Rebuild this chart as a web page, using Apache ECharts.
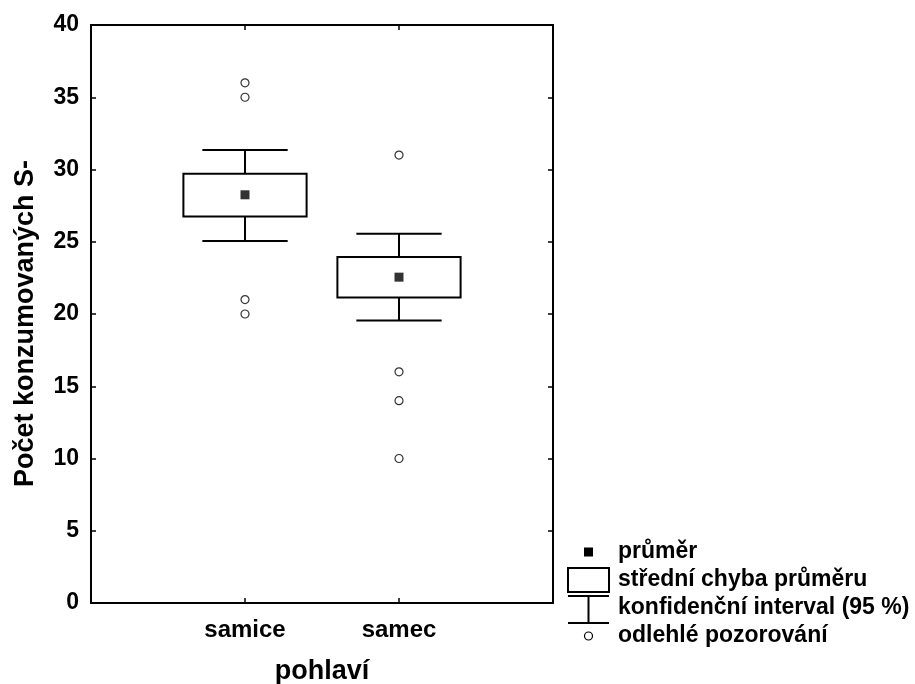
<!DOCTYPE html>
<html>
<head>
<meta charset="utf-8">
<script src="https://cdn.jsdelivr.net/npm/echarts@6/dist/echarts.min.js"></script>
<style>html,body{margin:0;padding:0;background:#fff}#chart{width:915px;height:684px}</style>
</head>
<body>
<div id="chart"></div>
<script>
// ---- data ----
const categories = ['samice', 'samec'];
const means = [28.25, 22.55];
const seLow = [26.75, 21.15];
const seHigh = [29.7, 23.95];
const ciLow = [25.05, 19.55];
const ciHigh = [31.35, 25.55];
const outliersSamice = [36, 35, 21, 20];
const outliersSamec = [31, 16, 14, 10];
const yTicks = [0, 5, 10, 15, 20, 25, 30, 35, 40];
const legendLabels = ['průměr', 'střední chyba průměru', 'konfidenční interval (95 %)', 'odlehlé pozorování'];
const yTitle = 'Počet konzumovaných S-';
const xTitle = 'pohlaví';

const FONT = 'Liberation Sans, Arial, sans-serif';
const chart = echarts.init(document.getElementById('chart'));

const boxData = categories.map((c, i) => [i + 1, ciLow[i], seLow[i], seHigh[i], ciHigh[i]]);
const meanData = categories.map((c, i) => [i + 1, means[i]]);
const outlierData = [outliersSamice, outliersSamec].flatMap((arr, i) => arr.map(v => [i + 1, v]));

function renderBox(params, api) {
  const x = api.value(0);
  const lo = api.value(1), q1 = api.value(2), q3 = api.value(3), hi = api.value(4);
  const boxHalf = 0.40, capHalf = 0.277;
  const pLo = api.coord([x, lo]), pHi = api.coord([x, hi]);
  const pQ1 = api.coord([x, q1]), pQ3 = api.coord([x, q3]);
  const bl = api.coord([x - boxHalf, q1])[0], br = api.coord([x + boxHalf, q1])[0];
  const cl = api.coord([x - capHalf, lo])[0], cr = api.coord([x + capHalf, lo])[0];
  const ls = { stroke: '#000', lineWidth: 2 };
  return {
    type: 'group',
    children: [
      { type: 'line', shape: { x1: pHi[0], y1: pHi[1], x2: pQ3[0], y2: pQ3[1] }, style: ls },
      { type: 'line', shape: { x1: pLo[0], y1: pLo[1], x2: pQ1[0], y2: pQ1[1] }, style: ls },
      { type: 'line', shape: { x1: cl, y1: pHi[1], x2: cr, y2: pHi[1] }, style: ls },
      { type: 'line', shape: { x1: cl, y1: pLo[1], x2: cr, y2: pLo[1] }, style: ls },
      { type: 'rect', shape: { x: bl, y: pQ3[1], width: br - bl, height: pQ1[1] - pQ3[1] },
        style: { fill: '#fff', stroke: '#000', lineWidth: 2 } }
    ]
  };
}

const txt = { fontFamily: FONT, fontWeight: 'bold', fill: '#000', fontSize: 23 };
const legendX = 568, legendTextX = 618;
const legendY = [552, 580, 608, 636];

const axisLineStyle = { onZero: false, lineStyle: { color: '#000', width: 2 } };
const tickStyle = { show: true, inside: true, length: 5, lineStyle: { color: '#000', width: 1.5 } };

const option = {
  animation: false,
  backgroundColor: '#fff',
  grid: { left: 91, right: 362, top: 25, bottom: 81, containLabel: false, outerBoundsMode: 'none' },
  xAxis: [
    {
      type: 'value', min: 0, max: 3, interval: 1, position: 'bottom',
      name: xTitle, nameLocation: 'middle', nameGap: 55,
      nameTextStyle: { fontFamily: FONT, fontWeight: 'bold', fontSize: 27, color: '#000' },
      axisLine: axisLineStyle,
      axisTick: tickStyle,
      axisLabel: {
        margin: 15, fontFamily: FONT, fontWeight: 'bold', fontSize: 24, color: '#000',
        formatter: v => (v >= 1 && v <= categories.length && Number.isInteger(v)) ? categories[v - 1] : ''
      },
      splitLine: { show: false }
    },
    {
      type: 'value', min: 0, max: 3, interval: 1, position: 'top',
      axisLine: axisLineStyle,
      axisTick: tickStyle,
      axisLabel: { show: false },
      splitLine: { show: false }
    }
  ],
  yAxis: [
    {
      type: 'value', min: yTicks[0], max: yTicks[yTicks.length - 1], interval: 5, position: 'left',
      name: yTitle, nameLocation: 'middle', nameGap: 52,
      nameTextStyle: { fontFamily: FONT, fontWeight: 'bold', fontSize: 27, color: '#000', padding: [0, 19, 0, 0] },
      axisLine: Object.assign({ show: true }, axisLineStyle),
      axisTick: tickStyle,
      axisLabel: { margin: 12, fontFamily: FONT, fontWeight: 'bold', fontSize: 23, color: '#000' },
      splitLine: { show: false }
    },
    {
      type: 'value', min: yTicks[0], max: yTicks[yTicks.length - 1], interval: 5, position: 'right',
      axisLine: Object.assign({ show: true }, axisLineStyle),
      axisTick: tickStyle,
      axisLabel: { show: false },
      splitLine: { show: false }
    }
  ],
  series: [
    {
      name: 'box', type: 'custom', xAxisIndex: 0, yAxisIndex: 0,
      renderItem: renderBox, data: boxData, encode: { x: 0, y: [1, 2, 3, 4] }, z: 2
    },
    {
      name: legendLabels[0], type: 'scatter', data: meanData, symbol: 'rect', symbolSize: 9,
      itemStyle: { color: '#000' }, z: 5
    },
    {
      name: legendLabels[3], type: 'scatter', data: outlierData, symbol: 'circle', symbolSize: 8,
      itemStyle: { color: '#fff', borderColor: '#000', borderWidth: 1.2 }, z: 5
    }
  ],
  graphic: [
    { type: 'rect', shape: { x: 584, y: legendY[0] - 4.5, width: 9, height: 9 }, style: { fill: '#000' } },
    { type: 'rect', shape: { x: legendX, y: 568, width: 41, height: 24 }, style: { fill: '#fff', stroke: '#000', lineWidth: 2 } },
    { type: 'line', shape: { x1: legendX, y1: 596, x2: legendX + 41, y2: 596 }, style: { stroke: '#000', lineWidth: 2 } },
    { type: 'line', shape: { x1: 588.5, y1: 596, x2: 588.5, y2: 623 }, style: { stroke: '#000', lineWidth: 2 } },
    { type: 'line', shape: { x1: legendX, y1: 623, x2: legendX + 41, y2: 623 }, style: { stroke: '#000', lineWidth: 2 } },
    { type: 'circle', shape: { cx: 588.5, cy: legendY[3], r: 4 }, style: { fill: '#fff', stroke: '#000', lineWidth: 1.2 } },
    ...legendLabels.map((t, i) => ({
      type: 'text', x: legendTextX, y: legendY[i],
      style: Object.assign({}, txt, { text: t, verticalAlign: 'middle', align: 'left' })
    }))
  ]
};
chart.setOption(option);
</script>
</body>
</html>
